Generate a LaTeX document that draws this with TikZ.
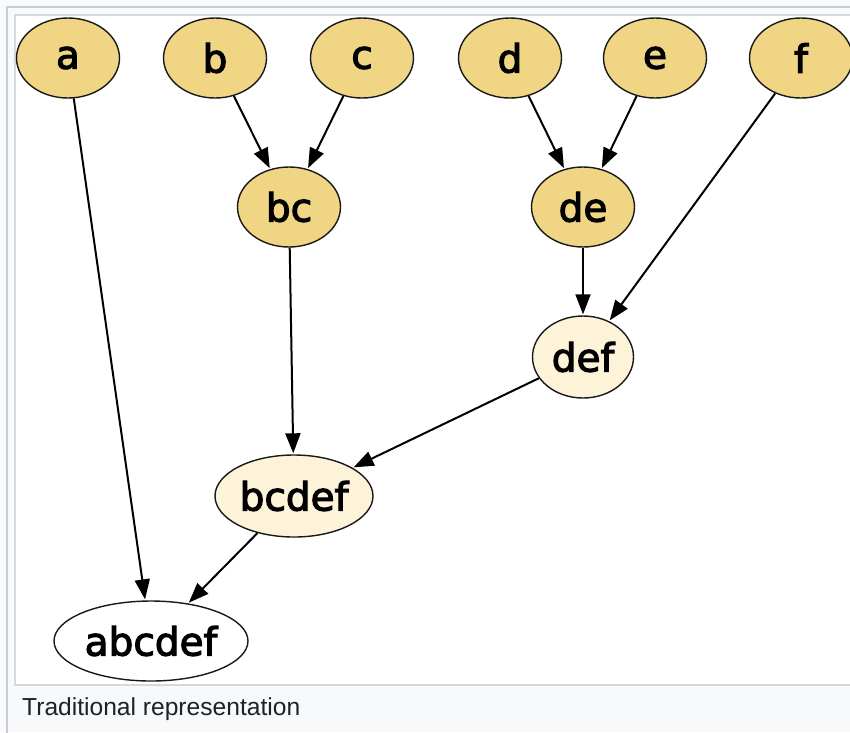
\documentclass[tikz,border=0pt]{standalone}
\usepackage{fontspec}
\setmainfont{DejaVu Sans}
\newfontfamily\nodefont{DejaVu Sans}[FakeBold=3]
\newfontfamily\captionfont{Liberation Sans}
\usetikzlibrary{shapes.geometric,arrows.meta}

\definecolor{leaffill}{HTML}{EFD584}
\definecolor{midfill}{HTML}{FCF3D9}
\definecolor{framebg}{HTML}{F8F9FA}
\definecolor{frameline}{HTML}{C8CCD1}
\definecolor{innerline}{HTML}{D5D8DC}
\definecolor{captiontext}{HTML}{202122}

\tikzset{
  graphnode/.style={ellipse, draw=black!90, line width=1.4pt, inner sep=0pt,
    minimum width=103pt, minimum height=80pt,
    font=\nodefont\fontsize{39}{39}\selectfont},
  leaf/.style={graphnode, fill=leaffill},
  merged/.style={graphnode, fill=midfill},
  root/.style={graphnode, fill=white},
  edge/.style={line width=2pt, black,
    -{Triangle[length=20pt, width=15pt]}, shorten >=1pt}
}

\begin{document}
\begin{tikzpicture}[x=1pt, y=-1pt]
  \useasboundingbox (0,0) rectangle (850,732);

  % outer caption frame and inner image box
  \fill[framebg] (0,0) rectangle (850,732);
  \draw[frameline, line width=1.2pt] (7,760) -- (7,7) -- (870,7);
  \draw[innerline, fill=white, line width=1.2pt] (15,15) rectangle (870,685);

  % leaves
  \node[leaf] (a) at (68,58)  {a};
  \node[leaf] (b) at (215,58) {b};
  \node[leaf] (c) at (362,58) {c};
  \node[leaf] (d) at (510,58) {d};
  \node[leaf] (e) at (655,58) {e};
  \node[leaf] (f) at (801,58) {f};

  % first merges
  \node[leaf] (bc) at (289,207) {bc};
  \node[leaf] (de) at (583,207) {de};

  % later merges
  \node[merged, minimum width=101pt, minimum height=82pt] (def) at (583,357) {def};
  \node[merged, minimum width=158pt, minimum height=82pt] (bcdef) at (294,496) {bcdef};
  \node[root, minimum width=194pt, minimum height=80pt] (abcdef) at (151,641) {abcdef};

  % connectors
  \draw[edge] (b) -- (bc);
  \draw[edge] (c) -- (bc);
  \draw[edge] (d) -- (de);
  \draw[edge] (e) -- (de);
  \draw[edge] (de) -- (def);
  \draw[edge] (f) -- (def);
  \draw[edge] (bc) -- (bcdef);
  \draw[edge] (def) -- (bcdef);
  \draw[edge] (a) -- (abcdef);
  \draw[edge] (bcdef) -- (abcdef);

  % caption
  \node[anchor=base west, inner sep=0pt, text=captiontext,
        font=\captionfont\fontsize{24.6}{25}\selectfont] (caption) at (22,715)
        {Traditional representation};
\end{tikzpicture}
\end{document}
